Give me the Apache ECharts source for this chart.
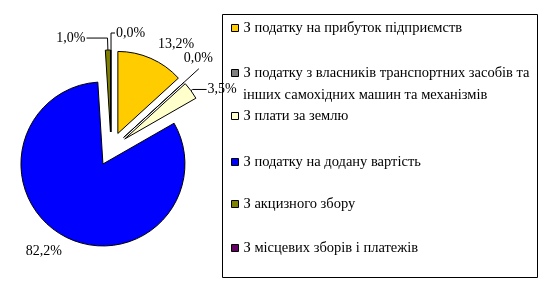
<!DOCTYPE html>
<html><head><meta charset="utf-8">
<script src="https://cdn.jsdelivr.net/npm/echarts@6/dist/echarts.min.js"></script>
<style>html,body{margin:0;padding:0;background:#fff}#c{width:553px;height:300px}</style>
</head><body><div id="c"></div>
<script>
const categories = [
  'З податку на прибуток підприємств',
  'З податку з власників транспортних засобів та',
  'З плати за землю',
  'З податку на додану вартість',
  'З акцизного збору',
  'З місцевих зборів і платежів'
];
const secondLine = 'інших самохідних машин та механізмів';
const values = [13.2, 0.0, 3.5, 82.2, 1.0, 0.0];
const colors = ['#FFCC00', '#808080', '#FFFFCC', '#0000FF', '#808000', '#660066'];
const legendTops = [20.5, 65.5, 108.5, 154.5, 196.5, 240.5];
// leader line settings per slice: [show, length, length2]
const leaders = [[false, 15, 0], [true, 20, 0], [true, 2, 14], [false, 13, 0], [true, 12, 21], [true, 17, 4]];
// label nudges per slice: [dx, dy]
const nudges = [[0, 0], [-16, -10], [0, 0], [5, 4], [0, 0], [0, 0]];

const chart = echarts.init(document.getElementById('c'), null, {renderer: 'canvas'});
const fmt = v => v.toFixed(1).replace('.', ',') + '%';

const data = categories.map((n, i) => ({
  name: n, value: values[i], selected: true,
  itemStyle: {color: colors[i]},
  labelLine: {show: leaders[i][0], length: leaders[i][1], length2: leaders[i][2]}
}));

const legends = categories.map((n, i) => ({
  data: [n], left: 231, top: legendTops[i], orient: 'vertical', padding: 0,
  icon: 'rect', itemWidth: 7, itemHeight: 7, itemGap: 0,
  itemStyle: {borderColor: '#000', borderWidth: 1},
  selectedMode: false,
  textStyle: {fontFamily: 'Liberation Serif', fontSize: 14.5, color: '#000'}
}));

chart.setOption({
  animation: false,
  legend: legends,
  graphic: [
    {type: 'rect', shape: {x: 222.5, y: 14.5, width: 315, height: 263}, style: {fill: 'none', stroke: '#000', lineWidth: 1}, z: -1},
    {type: 'text', x: 243, y: 95, style: {text: secondLine, font: '14.5px "Liberation Serif"', fill: '#000', verticalAlign: 'middle'}}
  ],
  series: [{
    type: 'pie',
    center: [111, 149],
    radius: 82,
    startAngle: 89.99,
    clockwise: true,
    selectedMode: 'multiple',
    selectedOffset: 17,
    stillShowZeroSum: true,
    minShowLabelAngle: 0,
    avoidLabelOverlap: false,
    itemStyle: {borderColor: '#000', borderWidth: 1},
    emphasis: {disabled: true},
    label: {
      show: true, position: 'outside', distanceToLabelLine: 1,
      formatter: p => fmt(p.value),
      fontFamily: 'Liberation Serif', fontSize: 14, color: '#000'
    },
    labelLine: {show: true, lineStyle: {color: '#000', width: 1}},
    labelLayout: p => {
      const n = nudges[p.dataIndex];
      return (n[0] || n[1]) ? {dx: n[0], dy: n[1]} : {};
    },
    data: data
  }]
});
</script></body></html>
